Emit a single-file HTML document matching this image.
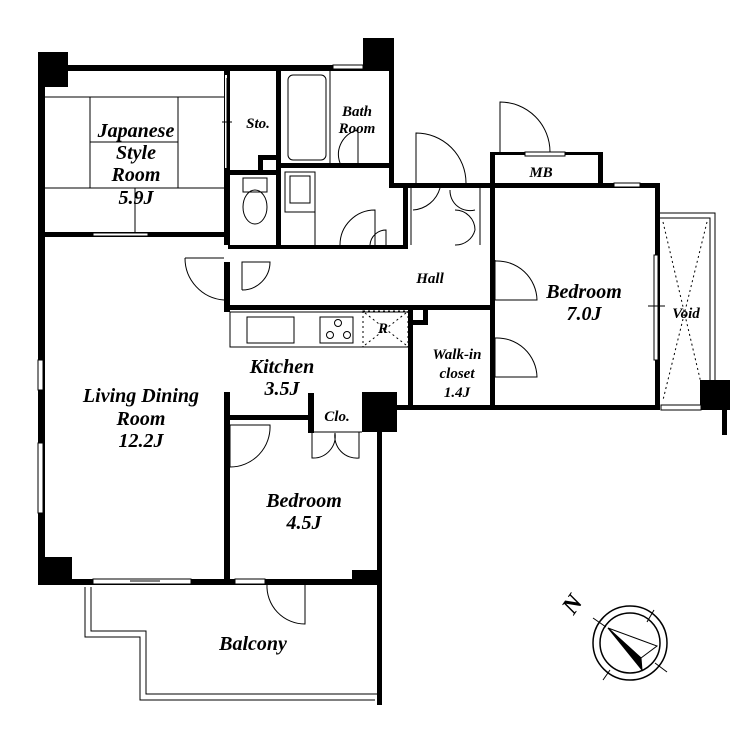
<!DOCTYPE html>
<html><head><meta charset="utf-8"><style>
html,body{margin:0;padding:0;background:#fff;}
svg{display:block;}
text{font-family:"Liberation Serif",serif;font-style:italic;font-weight:bold;fill:#000;text-anchor:middle;}
</style></head><body>
<svg width="749" height="749" viewBox="0 0 749 749" xmlns="http://www.w3.org/2000/svg">
<g fill="#000">
<rect x="38" y="52" width="30" height="35"/>
<rect x="363" y="38" width="30" height="32"/>
<rect x="38" y="557" width="34" height="27"/>
<rect x="362" y="392" width="35" height="40"/>
<rect x="700" y="380" width="30" height="30"/>
<rect x="722" y="405" width="5" height="30"/>
<rect x="38" y="65" width="355" height="6"/>
<rect x="38" y="52" width="7" height="532"/>
<rect x="38" y="579" width="344" height="6"/>
<rect x="377" y="420" width="5" height="285"/>
<rect x="389" y="38" width="5" height="150"/>
<rect x="45" y="232" width="183" height="5"/>
<rect x="224" y="70" width="6" height="175"/>
<rect x="224" y="262" width="6" height="50"/>
<rect x="276" y="70" width="5" height="177"/>
<rect x="228" y="170" width="48" height="5"/>
<rect x="258" y="155" width="5" height="18"/>
<rect x="258" y="155" width="18" height="5"/>
<rect x="281" y="163" width="110" height="5"/>
<rect x="228" y="245" width="180" height="4"/>
<rect x="390" y="183" width="270" height="5"/>
<rect x="490" y="152" width="5" height="36"/>
<rect x="598" y="152" width="5" height="36"/>
<rect x="490" y="152" width="113" height="3"/>
<rect x="403" y="183" width="5" height="65"/>
<rect x="490" y="185" width="5" height="225"/>
<rect x="655" y="183" width="5" height="227"/>
<rect x="390" y="405" width="270" height="5"/>
<rect x="228" y="305" width="267" height="5"/>
<rect x="408" y="305" width="5" height="105"/>
<rect x="408" y="320" width="18" height="5"/>
<rect x="423" y="305" width="5" height="20"/>
<rect x="224" y="392" width="6" height="190"/>
<rect x="224" y="415" width="90" height="5"/>
<rect x="308" y="393" width="6" height="40"/>
<rect x="352" y="570" width="28" height="10"/>
</g>
<g fill="none" stroke="#000" stroke-width="1">
<line x1="45" y1="97" x2="224" y2="97"/>
<line x1="45" y1="188" x2="224" y2="188"/>
<line x1="90" y1="97" x2="90" y2="188"/>
<line x1="178" y1="97" x2="178" y2="188"/>
<line x1="90" y1="142" x2="178" y2="142"/>
<line x1="135" y1="188" x2="135" y2="237"/>
<rect x="93" y="233" width="55" height="3" fill="#fff"/>
<rect x="288" y="75" width="38" height="85" rx="5"/>
<line x1="330" y1="70" x2="330" y2="163"/>
<path d="M340 163 A25 25 0 0 1 358 130 L358 163"/>
<rect x="243" y="178" width="24" height="14"/>
<ellipse cx="255" cy="207" rx="12" ry="17"/>
<rect x="285" y="172" width="30" height="40"/>
<rect x="290" y="176" width="20" height="27"/>
<line x1="315" y1="212" x2="315" y2="245"/>
<path d="M340 245 A35 35 0 0 1 375 210 L375 245"/>
<path d="M370 245 A16 16 0 0 1 386 230 L386 245"/>
<path d="M185 258 A42 42 0 0 0 224 300"/>
<line x1="185" y1="258" x2="224" y2="258"/>
<path d="M242 290 A28 28 0 0 0 270 262 L242 262 L242 290"/>
<path d="M416 185 L416 133 A50 50 0 0 1 466 183"/>
<path d="M500 152 L500 102 A50 50 0 0 1 550 152"/>
<path d="M413 210 A30 30 0 0 0 440 188"/>
<path d="M475 210 A20 20 0 0 1 450 190 M475 230 A20 20 0 0 0 455 210 M475 230 A20 20 0 0 1 455 245"/>
<line x1="411" y1="188" x2="411" y2="245"/>
<line x1="480" y1="188" x2="480" y2="245"/>
<path d="M495 260 L495 300 M495 261 A40 40 0 0 1 537 300 L495 300"/>
<path d="M495 338 L495 377 M495 338 A40 40 0 0 1 537 377 L495 377"/>
<rect x="230" y="312" width="180" height="35"/>
<rect x="247" y="317" width="47" height="26"/>
<rect x="320" y="317" width="33" height="26"/>
<circle cx="338" cy="323" r="3.5"/><circle cx="330" cy="335" r="3.5"/><circle cx="347" cy="335" r="3.5"/>
<rect x="363" y="311" width="45" height="36" stroke-dasharray="2,3"/>
<path d="M365 313 L406 345 M406 313 L365 345" stroke-dasharray="2,3"/>
<path d="M230 425 L270 425 A40 40 0 0 1 230 467 Z"/>
<path d="M312 432 L312 458 A22 22 0 0 0 335 433 M359 432 L359 458 A22 22 0 0 1 335 433"/>
<line x1="312" y1="432" x2="362" y2="432"/>
<path d="M267 584 L305 584 L305 624 A38 38 0 0 1 267 584"/>
<path d="M85 587 L85 637 L140 637 L140 700 L375 700"/>
<path d="M91 587 L91 631 L146 631 L146 694 L377 694"/>
<rect x="93" y="579" width="98" height="5" fill="#fff"/>
<line x1="130" y1="581" x2="160" y2="581"/>
<rect x="235" y="579" width="30" height="5" fill="#fff"/>
<rect x="38" y="360" width="5" height="30" fill="#fff"/>
<rect x="38" y="443" width="5" height="70" fill="#fff"/>
<rect x="614" y="183" width="26" height="4" fill="#fff"/>
<rect x="525" y="152" width="40" height="4" fill="#fff"/>
<rect x="333" y="65" width="30" height="4" fill="#fff"/>
<rect x="654" y="255" width="4" height="105" fill="#fff"/>
<path d="M660 213 L715 213 L715 382 M660 218 L710 218 L710 382"/>
<rect x="661" y="405" width="40" height="5" fill="#fff"/>
<path d="M663 222 L705 400 M707 222 L663 400" stroke-dasharray="2,3"/>
<line x1="648" y1="306" x2="665" y2="306"/>
<line x1="226" y1="75" x2="226" y2="168" stroke="#fff" stroke-width="2"/>
<line x1="227" y1="78" x2="227" y2="168"/>
<line x1="222" y1="122" x2="232" y2="122"/>
<circle cx="630" cy="643" r="37" stroke-width="1.5"/>
<circle cx="630" cy="643" r="30" stroke-width="1.5"/>
<line x1="593" y1="618" x2="606" y2="627"/>
<line x1="654" y1="610" x2="647" y2="622"/>
<line x1="667" y1="672" x2="655" y2="663"/>
<line x1="603" y1="680" x2="610" y2="670"/>
<path d="M608 628 L657 646 L641 658 Z" fill="#fff"/>
<path d="M608 628 L641 658 L642 670 Z" fill="#000"/>
</g>
<text x="572" y="612" font-size="24" transform="rotate(-55 572 604)">N</text>
<g font-size="20">
<text x="136" y="137">Japanese</text>
<text x="136" y="159">Style</text>
<text x="136" y="181">Room</text>
<text x="136" y="204">5.9J</text>
<text x="141" y="402">Living Dining</text>
<text x="141" y="425">Room</text>
<text x="141" y="447">12.2J</text>
<text x="282" y="373">Kitchen</text>
<text x="282" y="395">3.5J</text>
<text x="304" y="507">Bedroom</text>
<text x="304" y="529">4.5J</text>
<text x="584" y="298">Bedroom</text>
<text x="584" y="320">7.0J</text>
<text x="253" y="650">Balcony</text>
</g>
<g font-size="15">
<text x="258" y="128">Sto.</text>
<text x="357" y="116">Bath</text>
<text x="357" y="133">Room</text>
<text x="430" y="283">Hall</text>
<text x="541" y="177">MB</text>
<text x="686" y="318">Void</text>
<text x="457" y="359">Walk-in</text>
<text x="457" y="378">closet</text>
<text x="457" y="397">1.4J</text>
<text x="337" y="421">Clo.</text>
<text x="383" y="333">R</text>
</g>
</svg>
</body></html>
